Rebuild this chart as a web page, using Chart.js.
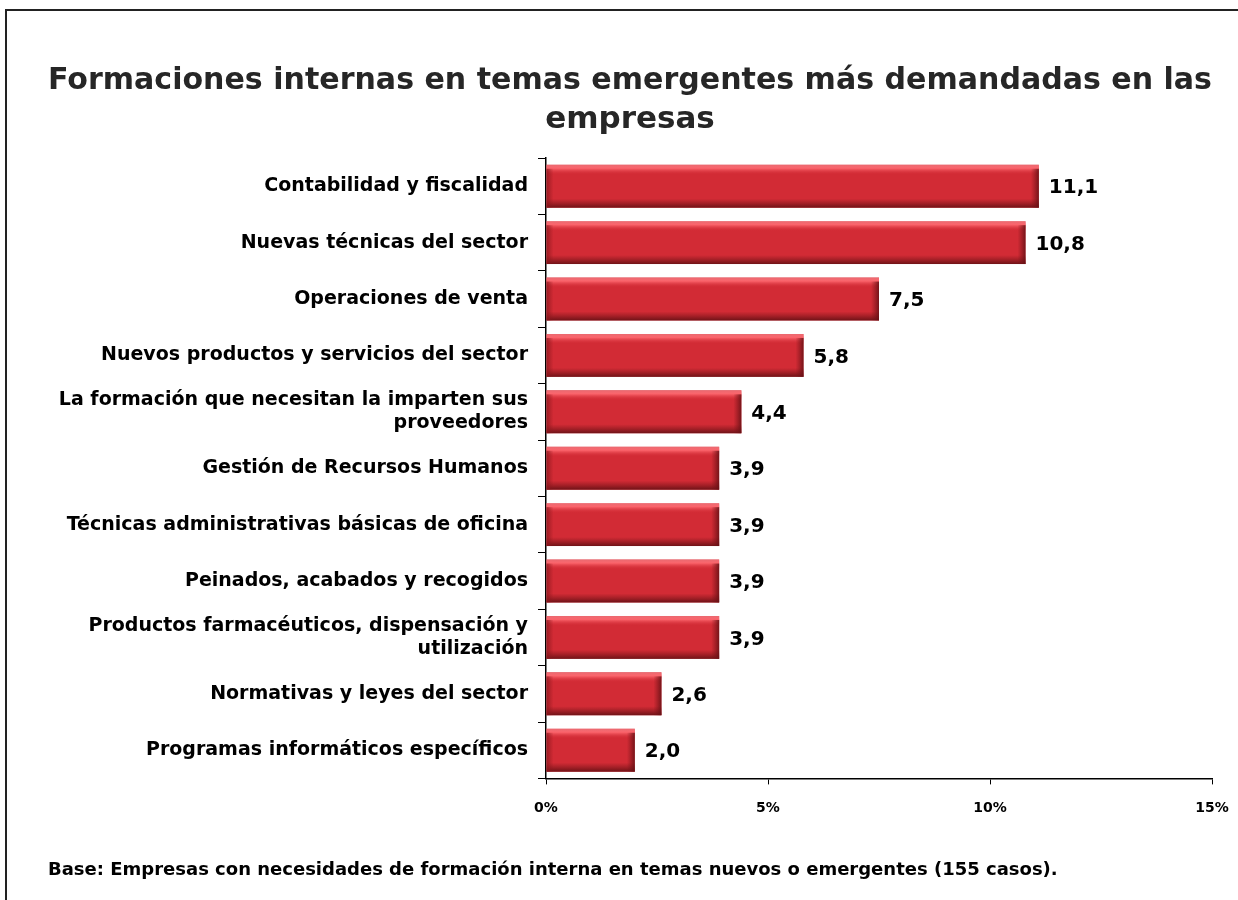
<!DOCTYPE html>
<html>
<head>
<meta charset="utf-8">
<script src="https://cdn.jsdelivr.net/npm/chart.js@4.4.0/dist/chart.umd.min.js"></script>
<style>
  html, body { margin: 0; padding: 0; background: #fff; }
  #wrap { position: relative; width: 1238px; height: 900px; }
  #frame { position: absolute; left: 5px; top: 9px; right: 0; bottom: 0; border-left: 2px solid #222; border-top: 2px solid #222; pointer-events: none; }
</style>
</head>
<body>
<div id="wrap">
  <canvas id="grafico" width="1238" height="900"></canvas>
  <div id="frame"></div>
</div>
<script>
// --- datos del gráfico ---
const categorias = [
  'Contabilidad y fiscalidad',
  'Nuevas técnicas del sector',
  'Operaciones de venta',
  'Nuevos productos y servicios del sector',
  ['La formación que necesitan la imparten sus', 'proveedores'],
  'Gestión de Recursos Humanos',
  'Técnicas administrativas básicas de oficina',
  'Peinados, acabados y recogidos',
  ['Productos farmacéuticos, dispensación y', 'utilización'],
  'Normativas y leyes del sector',
  'Programas informáticos específicos'
];
const valores = [11.1, 10.8, 7.5, 5.8, 4.4, 3.9, 3.9, 3.9, 3.9, 2.6, 2.0];
const ticksEjeX = [0, 5, 10, 15];

const titulo = ['Formaciones internas en temas emergentes más demandadas en las', 'empresas'];
const nota = 'Base: Empresas con necesidades de formación interna en temas nuevos o emergentes (155 casos).';

const FUENTE = '"DejaVu Sans", Verdana, sans-serif';

// relieve de las barras (efecto 3D)
const relieveBarras = {
  id: 'relieveBarras',
  afterDatasetsDraw(chart) {
    const ctx = chart.ctx;
    chart.getDatasetMeta(0).data.forEach(bar => {
      const x0 = bar.base, x1 = bar.x;
      const y0 = bar.y - bar.height / 2, y1 = bar.y + bar.height / 2;
      const w = x1 - x0, h = y1 - y0;
      ctx.save();
      // sombra inferior
      let g = ctx.createLinearGradient(0, y1 - 9, 0, y1);
      g.addColorStop(0, 'rgba(120,20,25,0)');
      g.addColorStop(1, 'rgba(100,16,20,0.9)');
      ctx.fillStyle = g;
      ctx.fillRect(x0, y1 - 9, w, 9);
      // brillo superior
      g = ctx.createLinearGradient(0, y0, 0, y0 + 10);
      g.addColorStop(0, 'rgba(255,150,155,0.55)');
      g.addColorStop(0.35, 'rgba(255,105,112,0.9)');
      g.addColorStop(1, 'rgba(210,43,53,0)');
      ctx.fillStyle = g;
      ctx.fillRect(x0, y0, w, 10);
      // borde derecho oscuro
      g = ctx.createLinearGradient(x1 - 8, 0, x1, 0);
      g.addColorStop(0, 'rgba(120,20,25,0)');
      g.addColorStop(1, 'rgba(100,16,20,0.85)');
      ctx.fillStyle = g;
      ctx.fillRect(x1 - 8, y0 + 4, 8, h - 4);
      // borde izquierdo
      g = ctx.createLinearGradient(x0, 0, x0 + 7, 0);
      g.addColorStop(0, 'rgba(140,22,28,0.75)');
      g.addColorStop(1, 'rgba(140,22,28,0)');
      ctx.fillStyle = g;
      ctx.fillRect(x0, y0 + 4, 7, h - 4);
      ctx.restore();
    });
  }
};

// etiquetas de valor al final de cada barra
const etiquetasValor = {
  id: 'etiquetasValor',
  afterDatasetsDraw(chart) {
    const ctx = chart.ctx;
    ctx.save();
    ctx.font = 'bold 20px ' + FUENTE;
    ctx.fillStyle = '#000';
    ctx.textBaseline = 'middle';
    ctx.textAlign = 'left';
    chart.getDatasetMeta(0).data.forEach((bar, i) => {
      ctx.fillText(valores[i].toFixed(1).replace('.', ','), bar.x + 10, bar.y + 2);
    });
    ctx.restore();
  }
};

new Chart(document.getElementById('grafico'), {
  type: 'bar',
  data: {
    labels: categorias,
    datasets: [{
      data: valores,
      backgroundColor: '#d22b35',
      borderWidth: 0,
      categoryPercentage: 1,
      barPercentage: 0.76
    }]
  },
  options: {
    indexAxis: 'y',
    responsive: false,
    animation: false,
    layout: { padding: { left: 48, right: 26, top: 62, bottom: 14 } },
    plugins: {
      legend: { display: false },
      tooltip: { enabled: false },
      title: {
        display: true,
        text: titulo,
        color: '#262626',
        font: { family: FUENTE, size: 31, weight: 'bold', lineHeight: 1.25 },
        padding: { top: 0, bottom: 18.5 }
      },
      subtitle: {
        display: true,
        position: 'bottom',
        align: 'start',
        text: nota,
        color: '#000',
        font: { family: FUENTE, size: 18, weight: 'bold', lineHeight: 1.2 },
        padding: { top: 43, bottom: 5 }
      }
    },
    scales: {
      x: {
        min: 0,
        max: 15,
        afterBuildTicks: scale => { scale.ticks = ticksEjeX.map(v => ({ value: v })); },
        afterFit: scale => {
          scale.height = 38;
          scale.paddingRight = 0;
        },
        border: { color: '#000', width: 1.5 },
        grid: { drawOnChartArea: false, drawTicks: true, tickLength: 6, color: '#000' },
        ticks: {
          color: '#000',
          padding: 16,
          font: { family: FUENTE, size: 14, weight: 'bold' },
          callback: v => v + '%'
        }
      },
      y: {
        afterFit: scale => { scale.width = 498; },
        border: { color: '#000', width: 1.5 },
        grid: { drawOnChartArea: false, drawTicks: true, tickLength: 8, color: '#000' },
        ticks: {
          color: '#000',
          padding: 10,
          font: { family: FUENTE, size: 19, weight: 'bold', lineHeight: 1.2 }
        }
      }
    }
  },
  plugins: [relieveBarras, etiquetasValor]
});
</script>
</body>
</html>
